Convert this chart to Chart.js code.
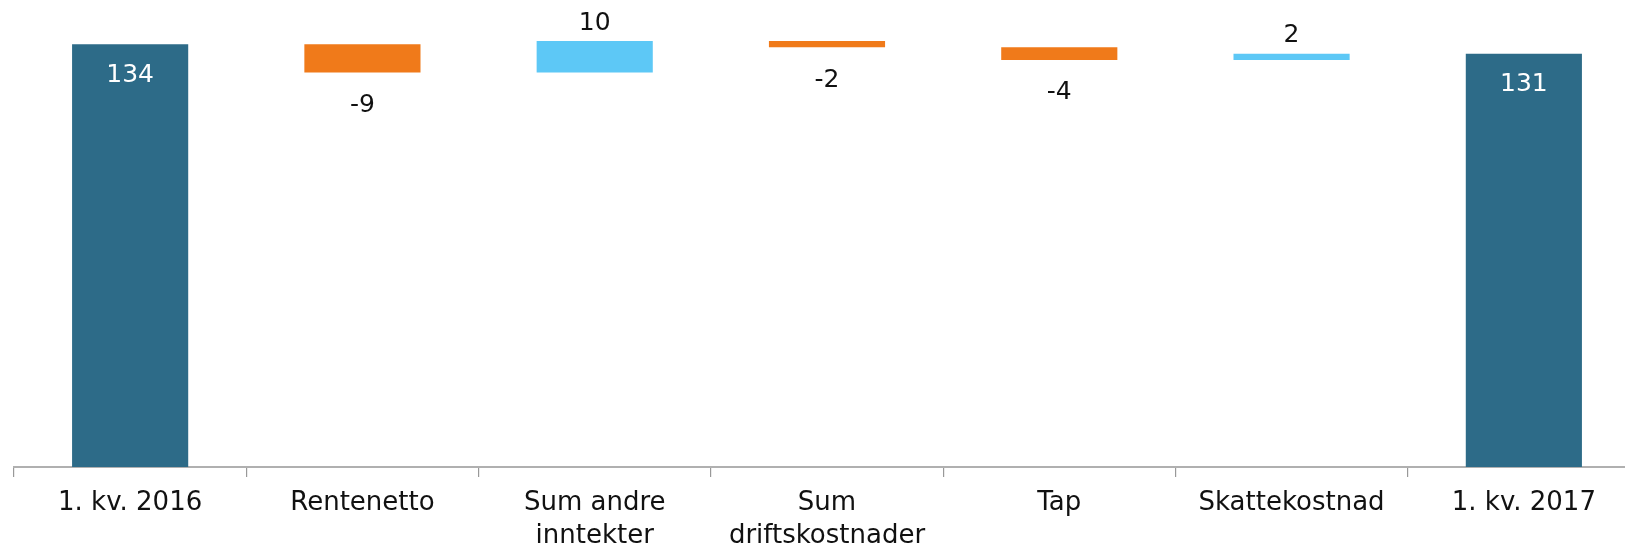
<!DOCTYPE html>
<html>
<head>
<meta charset="utf-8">
<script src="https://cdn.jsdelivr.net/npm/chart.js@4/dist/chart.umd.min.js"></script>
<style>
  html, body { margin: 0; padding: 0; background: #fff; overflow: hidden; }
  #wrap { position: relative; width: 1645px; height: 549px; }
</style>
</head>
<body>
<div id="wrap"><canvas id="chart"></canvas></div>
<script>
// chart data
var categories = [["1. kv. 2016"], ["Rentenetto"], ["Sum andre", "inntekter"], ["Sum", "driftskostnader"], ["Tap"], ["Skattekostnad"], ["1. kv. 2017"]];
var values = [134, -9, 10, -2, -4, 2, 131];
var isTotal = [true, false, false, false, false, false, true];

var colTotal = "#2d6b88";
var colDown = "#f07a1a";
var colUp = "#5dc8f6";

// build floating bars for the waterfall
var ranges = [];
var colors = [];
var running = 0;
for (var i = 0; i < values.length; i++) {
  if (isTotal[i]) {
    ranges.push([0, values[i]]);
    running = values[i];
    colors.push(colTotal);
  } else {
    ranges.push([running, running + values[i]]);
    running += values[i];
    colors.push(values[i] < 0 ? colDown : colUp);
  }
}

// draw value labels next to / inside the bars
var valueLabels = {
  id: "valueLabels",
  afterDatasetsDraw: function (chart) {
    var ctx = chart.ctx;
    var meta = chart.getDatasetMeta(0);
    ctx.save();
    ctx.font = "25px 'DejaVu Sans'";
    ctx.textAlign = "center";
    ctx.textBaseline = "middle";
    meta.data.forEach(function (bar, i) {
      var p = bar.getProps(["x", "y", "base"], true);
      var top = Math.min(p.y, p.base);
      var bottom = Math.max(p.y, p.base);
      var txt = String(values[i]);
      if (isTotal[i]) {
        ctx.fillStyle = "#ffffff";
        ctx.fillText(txt, p.x, top + 31);
      } else if (values[i] < 0) {
        ctx.fillStyle = "#111111";
        ctx.fillText(txt, p.x, bottom + 33);
      } else {
        ctx.fillStyle = "#111111";
        ctx.fillText(txt, p.x, top - 18);
      }
    });
    ctx.restore();
  }
};

var myChart = new Chart(document.getElementById("chart"), {
  type: "bar",
  data: {
    labels: categories,
    datasets: [
      {
        data: ranges,
        backgroundColor: colors,
        borderWidth: 0,
        categoryPercentage: 1.0,
        barPercentage: 0.5,
      },
    ],
  },
  options: {
    responsive: true,
    maintainAspectRatio: false,
    animation: false,
    events: [],
    layout: { padding: { left: 14, right: 5, top: 0, bottom: 0 } },
    plugins: {
      legend: { display: false },
      tooltip: { enabled: false },
    },
    scales: {
      x: {
        grid: {
          display: true,
          drawOnChartArea: false,
          drawTicks: true,
          tickLength: 10,
          color: "#999999",
          lineWidth: 1.2,
        },
        border: { display: true, color: "#b0b0b0", width: 2 },
        ticks: {
          color: "#111111",
          padding: 10,
          maxRotation: 0,
          autoSkip: false,
          font: { family: "'DejaVu Sans'", size: 26, lineHeight: 1.27 },
        },
        afterFit: function (scale) {
          scale.height = 82;
        },
      },
      y: {
        display: false,
        min: 0,
        max: 148,
      },
    },
  },
  plugins: [valueLabels],
});
</script>
</body>
</html>
